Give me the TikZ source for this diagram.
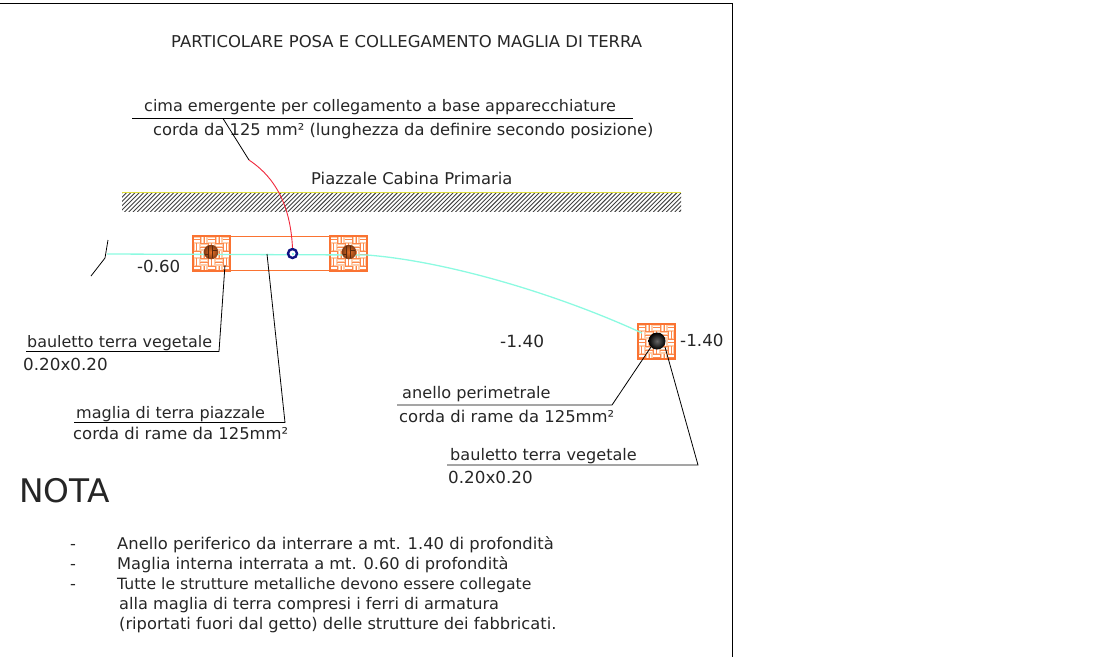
\documentclass[tikz,border=0pt]{standalone}
\usepackage{fontspec}
\setmainfont[FakeStretch=1.01]{DejaVu Sans}
\usetikzlibrary{calc}
\definecolor{bask}{RGB}{252,135,75}
\definecolor{baskedge}{RGB}{250,115,50}
\definecolor{baskl}{RGB}{254,205,170}
\definecolor{cyanl}{RGB}{140,250,225}
\definecolor{navyc}{RGB}{15,20,130}
\definecolor{browna}{RGB}{235,115,40}
\definecolor{brownb}{RGB}{130,60,20}
\definecolor{redc}{RGB}{240,40,60}
\definecolor{yel}{RGB}{225,225,60}
\tikzset{
  lab/.style={anchor=west,inner sep=0pt,yshift=-1pt,font=\fontsize{16}{18}\selectfont,text=black!85},
  leader/.style={draw=black,line width=0.8pt},
  frameln/.style={draw=black,line width=1pt},
  mesh/.style={draw=cyanl,line width=1.3pt},
  bx/.style={draw=baskedge,line width=1.2pt},
}
\newcommand{\basket}[4]{% x y w h
  \begin{scope}
    \clip (#1,#2) rectangle ++(#3,#4);
    \fill[baskl] (#1,#2) rectangle ++(#3,#4);
    \foreach \i in {0,1,2,3,4}{\foreach \j in {0,1,2,3,4}{
      \pgfmathtruncatemacro{\odd}{mod(\i+\j,2)}
      \pgfmathsetmacro{\xx}{#1+\i*7.4}
      \pgfmathsetmacro{\yy}{#2+\j*7.4}
      \ifnum\odd=0
        \draw[white,line width=1.5pt] (\xx+.6,\yy+2.3) -- ++(6.2,0) (\xx+.6,\yy+5.1) -- ++(6.2,0);
        \draw[bask,line width=0.55pt] (\xx,\yy+.3) -- ++(7.4,0) (\xx,\yy+3.7) -- ++(7.4,0);
      \else
        \draw[white,line width=1.5pt] (\xx+2.3,\yy+.6) -- ++(0,6.2) (\xx+5.1,\yy+.6) -- ++(0,6.2);
        \draw[bask,line width=0.55pt] (\xx+.3,\yy) -- ++(0,7.4) (\xx+3.7,\yy) -- ++(0,7.4);
      \fi
    }}
  \end{scope}
  \draw[bx] (#1,#2) rectangle ++(#3,#4);
}
\begin{document}
\begin{tikzpicture}[x=1pt,y=-1pt]
\useasboundingbox (0,0) rectangle (1099,657);
% frame
\draw[frameln] (0,3.5) -- (732.5,3.5) -- (732.5,657);
% title
\node[lab,font=\fontsize{16.3}{18}\selectfont] (title) at (171,41) {PARTICOLARE POSA E COLLEGAMENTO MAGLIA DI TERRA};
% ground hatch
\begin{scope}
  \clip (122,193) rectangle (681,211);
  \foreach \x in {90,94.3,...,690}{\draw[black!75,line width=0.9pt] (\x,212) -- ++(20,-20);}
\end{scope}
\draw[draw=black,line width=0.6pt] (122,192.5) -- (681,192.5);
\draw[yel,line width=0.9pt] (122,192.5) -- (681,192.5);
\node[lab,font=\fontsize{16.2}{18}\selectfont] (piazzale) at (311,177) {Piazzale Cabina Primaria};
% baskets
\draw[bx] (230,236.5) rectangle (330,270.5);
\basket{193}{236}{37}{35}
\basket{330}{236}{37}{35}
\basket{638}{324}{37}{35}
% cyan mesh
\coordinate (mA) at (107,254);
\coordinate (mB) at (367,255);
\coordinate (mC) at (642,333);
\draw[mesh] (mA) -- (mB) .. controls (445,261) and (555,293) .. (mC);
% conductors
\foreach \cx/\nm in {211/cL,349/cR}{
  \node[circle,minimum size=14.5pt,inner sep=0pt,shade,inner color=browna,outer color=brownb] (\nm) at (\cx,252) {};
  \draw[brownb!70!black,line width=0.4pt] (\cx-3,246) -- (\cx-3,258) (\cx+1,246) -- (\cx+1,258) (\cx+1,250) -- (\cx+6,250) (\cx-6,254) -- (\cx-3,254);
}
\node[circle,minimum size=17pt,inner sep=0pt,shade,inner color=black!60,outer color=black] (cP) at (657,341) {};
% emergent
\node[circle,minimum size=9pt,inner sep=0pt,draw=navyc,line width=2.4pt,fill=white] (em) at (292.5,253.5) {};
\fill[cyanl] (291.5,252.5) rectangle (293.5,254.5);
\coordinate (rT) at (249,160);
\draw[redc,line width=0.9pt] (rT) .. controls (270,174) and (290,198) .. (em.north);
% texts and leaders
\node[lab,font=\fontsize{15.87}{18}\selectfont] (t1) at (144,106) {cima emergente per collegamento a base apparecchiature};
\node[lab,font=\fontsize{16.16}{18}\selectfont] (t2) at (153,130) {corda da 125 mm² (lunghezza da definire secondo posizione)};
\coordinate (u1a) at (132,118.5); \coordinate (u1b) at (633,118.5); \coordinate (u1c) at (223,118.5);
\draw[leader] (u1a) -- (u1b);
\draw[leader] (u1c) -- (rT);
\node[lab,font=\fontsize{16.5}{18}\selectfont] (m060) at (137,265) {-0.60};
\coordinate (k1) at (108,240); \coordinate (k2) at (105,258); \coordinate (k3) at (91,276);
\draw[leader] (k1) -- (k2) -- (k3);
\node[lab,font=\fontsize{15.8}{18}\selectfont] (b1) at (27,342) {bauletto terra vegetale};
\node[lab,font=\fontsize{16.6}{18}\selectfont] (b1d) at (23,363) {0.20x0.20};
\coordinate (l1a) at (26,351.5); \coordinate (l1b) at (219,351.5); \coordinate (l1c) at (225,265);
\draw[leader] (l1a) -- (l1b) -- (l1c);
\node[lab,font=\fontsize{15.9}{18}\selectfont] (mg) at (76,413) {maglia di terra piazzale};
\node[lab,font=\fontsize{16.25}{18}\selectfont] (mgd) at (73,432) {corda di rame da 125mm²};
\coordinate (l2a) at (74,422.5); \coordinate (l2b) at (285,422.5); \coordinate (l2c) at (267,254);
\draw[leader] (l2a) -- (l2b) -- (l2c);
\node[lab,font=\fontsize{16.8}{18}\selectfont] (m140a) at (500,340) {-1.40};
\node[lab,font=\fontsize{16.6}{18}\selectfont] (m140b) at (680,339) {-1.40};
\node[lab] (an) at (402,393) {anello perimetrale};
\node[lab,font=\fontsize{16.25}{18}\selectfont] (and) at (399,415) {corda di rame da 125mm²};
\coordinate (l3a) at (397,405); \coordinate (l3b) at (612,405);
\draw[leader] (l3a) -- (l3b) -- (cP.south west);
\node[lab,font=\fontsize{15.95}{18}\selectfont] (b2) at (450,455) {bauletto terra vegetale};
\node[lab,font=\fontsize{16.6}{18}\selectfont] (b2d) at (448,476) {0.20x0.20};
\coordinate (l4a) at (447,465); \coordinate (l4b) at (698,465); \coordinate (l4c) at (665,347);
\draw[leader] (l4a) -- (l4b) -- (l4c);
% note
\node[lab,font=\fontsize{32.5}{36}\selectfont] (nota) at (19,490) {NOTA};
\node[lab] (d1) at (70,546) {-};
\node[lab,font=\fontsize{16.2}{18}\selectfont] (n1) at (117,544) {Anello periferico da interrare a mt. 1.40 di profondità};
\node[lab] (d2) at (70,566) {-};
\node[lab,font=\fontsize{16.08}{18}\selectfont] (n2) at (117,564) {Maglia interna interrata a mt. 0.60 di profondità};
\node[lab] (d3) at (70,586) {-};
\node[lab,font=\fontsize{15.5}{18}\selectfont] (n3) at (117,584) {Tutte le strutture metalliche devono essere collegate};
\node[lab] (n4) at (119,604) {alla maglia di terra compresi i ferri di armatura};
\node[lab,font=\fontsize{16.1}{18}\selectfont] (n5) at (119,624) {(riportati fuori dal getto) delle strutture dei fabbricati.};
\end{tikzpicture}
\end{document}
